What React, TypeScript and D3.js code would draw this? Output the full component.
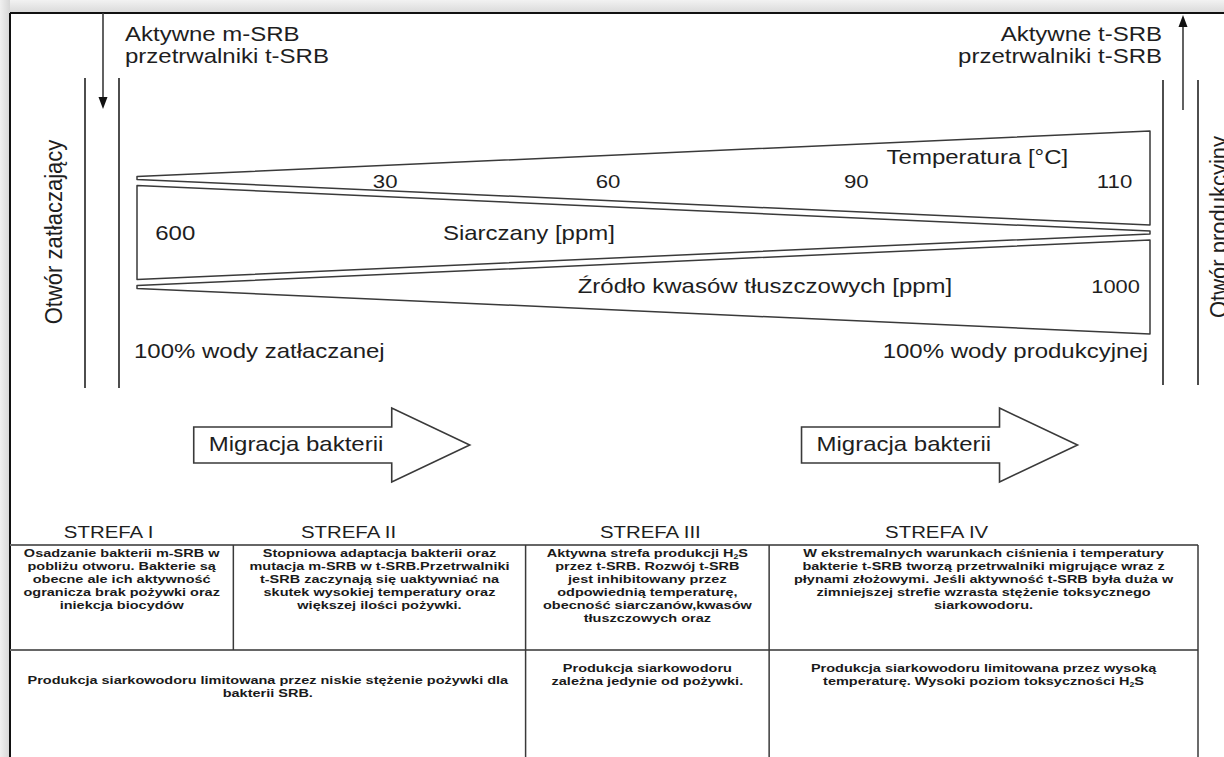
import React from 'react';
import * as d3 from 'd3';

const WIDTH = 1224;
const HEIGHT = 757;

// distance between the wells: 0 = injection well, 1 = production well
const bandNames = ['temperatura', 'siarczany', 'kwasy'];
const bandAtInjection = [0.03, 1, 0.03];
const bandAtProduction = [1, 0.03, 1];
const bandTitles = ['Temperatura [°C]', 'Siarczany [ppm]', 'Źródło kwasów tłuszczowych [ppm]'];
const bandTitlePos = [0.74, 0.302, 0.435];

const tempTicks = ['30', '60', '90', '110'];
const tempTickPos = [0.245, 0.465, 0.71, 0.965];

const sulfateAtInjection = '600';
const fattyAcidAtProduction = '1000';

const waterLabels = ['100% wody zatłaczanej', '100% wody produkcyjnej'];
const wellLabels = ['Otwór zatłaczający', 'Otwór produkcyjny'];
const injectionNote = ['Aktywne m-SRB', 'przetrwalniki t-SRB'];
const productionNote = ['Aktywne t-SRB', 'przetrwalniki t-SRB'];

const migrationLabel = 'Migracja bakterii';
const migrationStart = [0.056, 0.656];

// zones table (percent of table width)
const zoneNames = ['STREFA I', 'STREFA II', 'STREFA III', 'STREFA IV'];
const zoneEdges = [0, 18.8, 43.4, 63.9, 100];
const zoneNamePos = [8.3, 28.5, 53.9, 78.0];
const zoneDescriptions = [
  ['Osadzanie bakterii m-SRB w', 'pobliżu otworu. Bakterie są', 'obecne ale ich aktywność', 'ogranicza brak pożywki oraz', 'iniekcja biocydów'],
  ['Stopniowa adaptacja bakterii oraz', 'mutacja m-SRB w t-SRB.Przetrwalniki', 't-SRB zaczynają się uaktywniać na', 'skutek wysokiej temperatury oraz', 'większej ilości pożywki.'],
  ['Aktywna strefa produkcji H{2}S', 'przez t-SRB. Rozwój t-SRB', 'jest inhibitowany przez', 'odpowiednią temperaturę,', 'obecność siarczanów,kwasów', 'tłuszczowych oraz'],
  ['W ekstremalnych warunkach ciśnienia i temperatury', 'bakterie t-SRB tworzą przetrwalniki migrujące wraz z', 'płynami złożowymi. Jeśli aktywność t-SRB była duża w', 'zimniejszej strefie wzrasta stężenie toksycznego', 'siarkowodoru.'],
];
const outcomeSpans = [[0, 2], [2, 3], [3, 4]];
const outcomeDescriptions = [
  ['Produkcja siarkowodoru limitowana przez niskie stężenie pożywki dla', 'bakterii SRB.'],
  ['Produkcja siarkowodoru', 'zależna jedynie od pożywki.'],
  ['Produkcja siarkowodoru limitowana przez wysoką', 'temperaturę. Wysoki poziom toksyczności H{2}S'],
];

const INK = '#1e1e1e';
const LINE = '#3a3a3a';

// text with subscripts written as {n}
const rich = (s: string) =>
  s.split(/\{(\d)\}/).map((part, i) =>
    i % 2 === 1 ? (
      <tspan key={i} fontSize="0.6em" dy={2}>{part}</tspan>
    ) : (
      <tspan key={i} dy={i > 0 ? -2 : 0}>{part}</tspan>
    )
  );

const Label = ({ x, y, size = 20, anchor = 'start', sx = 1.2, weight = 'normal', fill = INK, children }: any) => (
  <text
    transform={`translate(${x},${y}) scale(${sx},1)`}
    fontSize={size}
    textAnchor={anchor}
    fontWeight={weight}
    fill={fill}
  >
    {children}
  </text>
);

const App = () => {
  const dist = d3.scaleLinear().domain([0, 1]).range([137, 1150]);
  const bandY = d3.scalePoint<string>().domain(bandNames).range([178, 287]);
  const halfH = d3.scaleLinear().domain([0, 1]).range([0, 47]);
  const tableX = d3.scaleLinear().domain([0, 100]).range([10, 1198]);
  const line = d3.line();

  const wedges = bandNames.map((name, i) => {
    const c = bandY(name) as number;
    const pts: [number, number][] = [
      [dist(0), c - halfH(bandAtInjection[i])],
      [dist(1), c - halfH(bandAtProduction[i])],
      [dist(1), c + halfH(bandAtProduction[i])],
      [dist(0), c + halfH(bandAtInjection[i])],
    ];
    return line(pts) + 'Z';
  });

  const tempC = bandY('temperatura') as number;
  const sulfC = bandY('siarczany') as number;
  const acidC = bandY('kwasy') as number;

  // block arrow
  const migY = 445;
  const boxH = 18;
  const headH = 37;
  const boxW = 198;
  const headW = 78;
  const arrowPath = (x0: number) =>
    line([
      [x0, migY - boxH],
      [x0 + boxW, migY - boxH],
      [x0 + boxW, migY - headH],
      [x0 + boxW + headW, migY],
      [x0 + boxW, migY + headH],
      [x0 + boxW, migY + boxH],
      [x0, migY + boxH],
    ]) + 'Z';

  const tableTop = 545;
  const rowDiv = 650;
  const lineGap = 13;

  return (
    <svg
      width={WIDTH}
      height={HEIGHT}
      style={{ position: 'absolute', left: 0, top: 0, display: 'block' }}
      fontFamily="'Liberation Sans', Arial, Helvetica, sans-serif"
    >
      <defs>
        <linearGradient id="topShade" x1="0" y1="0" x2="0" y2="1">
          <stop offset="0%" stopColor="#f2f2f2" />
          <stop offset="100%" stopColor="#d9d9d9" />
        </linearGradient>
        <linearGradient id="leftShade" x1="0" y1="0" x2="1" y2="0">
          <stop offset="0%" stopColor="#f0f0f0" />
          <stop offset="100%" stopColor="#d6d6d6" />
        </linearGradient>
      </defs>

      {/* frame */}
      <rect x={0} y={0} width={WIDTH} height={HEIGHT} fill="#ececec" />
      <rect x={0} y={0} width={WIDTH} height={13} fill="url(#topShade)" />
      <rect x={0} y={0} width={10} height={HEIGHT} fill="url(#leftShade)" />
      <rect x={10} y={13} width={WIDTH - 10} height={HEIGHT - 13} fill="#fff" />
      <line x1={10} y1={13} x2={WIDTH} y2={13} stroke="#111" strokeWidth={2} />
      <line x1={10} y1={13} x2={10} y2={HEIGHT} stroke="#111" strokeWidth={2} />

      {/* wells */}
      {[85, 119, 1163, 1198].map((x, i) => (
        <line key={i} x1={x} x2={x} y1={i < 2 ? 78 : 80} y2={i < 2 ? 388 : 385} stroke={LINE} strokeWidth={1.8} />
      ))}
      <line x1={103} x2={103} y1={13} y2={98} stroke={LINE} strokeWidth={1.6} />
      <path d="M98.5,97 L107.5,97 L103,109 Z" fill="#111" />
      <line x1={1183} x2={1183} y1={27} y2={110} stroke={LINE} strokeWidth={1.6} />
      <path d="M1178.5,27 L1187.5,27 L1183,15 Z" fill="#111" />

      <text transform="translate(62,232) rotate(-90) scale(1,1.12)" fontSize={22} textAnchor="middle" fill={INK}>
        {wellLabels[0]}
      </text>
      <text transform="translate(1227,227) rotate(-90) scale(1,1.12)" fontSize={22} textAnchor="middle" fill={INK}>
        {wellLabels[1]}
      </text>

      {injectionNote.map((t, i) => (
        <Label key={t} x={125} y={41 + i * 21.5}>{t}</Label>
      ))}
      {productionNote.map((t, i) => (
        <Label key={t} x={1162} y={41 + i * 21.5} anchor="end">{t}</Label>
      ))}

      {/* parameter wedges */}
      {wedges.map((d, i) => (
        <path key={bandNames[i]} d={d} fill="none" stroke={LINE} strokeWidth={1.5} strokeLinejoin="round" />
      ))}

      {tempTicks.map((t, i) => (
        <Label key={t} x={dist(tempTickPos[i])} y={tempC + 10} size={19} anchor="middle" sx={1.17}>{t}</Label>
      ))}
      <Label x={dist(bandTitlePos[0])} y={tempC - 14}>{bandTitles[0]}</Label>

      <Label x={dist(0.018)} y={sulfC + 7.5}>{sulfateAtInjection}</Label>
      <Label x={dist(bandTitlePos[1])} y={sulfC + 7}>{bandTitles[1]}</Label>

      <Label x={dist(bandTitlePos[2])} y={acidC + 6}>{bandTitles[2]}</Label>
      <Label x={dist(0.99)} y={acidC + 6} size={19} anchor="end" sx={1.15}>{fattyAcidAtProduction}</Label>

      <Label x={dist(-0.003)} y={358}>{waterLabels[0]}</Label>
      <Label x={dist(0.998)} y={358} anchor="end">{waterLabels[1]}</Label>

      {/* migration arrows */}
      {migrationStart.map((m, i) => (
        <g key={i}>
          <path d={arrowPath(dist(m)) as string} fill="#fff" stroke={LINE} strokeWidth={1.6} strokeLinejoin="miter" />
          <Label x={dist(m) + 15} y={migY + 6}>{migrationLabel}</Label>
        </g>
      ))}

      {/* zones table */}
      {zoneNames.map((z, i) => (
        <Label key={z} x={tableX(zoneNamePos[i])} y={538} size={17} anchor="middle" sx={1.2}>{z}</Label>
      ))}
      <line x1={10} x2={tableX(100)} y1={tableTop} y2={tableTop} stroke="#666" strokeWidth={2.2} />
      <line x1={10} x2={tableX(100)} y1={rowDiv} y2={rowDiv} stroke="#666" strokeWidth={1.8} />
      <line x1={tableX(zoneEdges[1])} x2={tableX(zoneEdges[1])} y1={tableTop} y2={rowDiv} stroke={LINE} strokeWidth={1.5} />
      {[zoneEdges[2], zoneEdges[3], zoneEdges[4]].map((e, i) => (
        <line key={i} x1={tableX(e)} x2={tableX(e)} y1={tableTop} y2={HEIGHT} stroke={LINE} strokeWidth={1.5} />
      ))}

      {zoneDescriptions.map((lines, i) => {
        const cx = (tableX(zoneEdges[i]) + tableX(zoneEdges[i + 1])) / 2;
        return lines.map((t, j) => (
          <Label key={`${i}-${j}`} x={cx} y={557 + j * lineGap} size={11.5} anchor="middle" sx={1.26} weight="bold" fill="#1a1a1a">
            {rich(t)}
          </Label>
        ));
      })}

      {outcomeDescriptions.map((lines, i) => {
        const [a, b] = outcomeSpans[i];
        const cx = (tableX(zoneEdges[a]) + tableX(zoneEdges[b])) / 2;
        const y0 = i === 0 ? 684 : 672;
        return lines.map((t, j) => (
          <Label key={`o${i}-${j}`} x={cx} y={y0 + j * lineGap} size={11.5} anchor="middle" sx={1.26} weight="bold" fill="#1a1a1a">
            {rich(t)}
          </Label>
        ));
      })}
    </svg>
  );
};

export default App;
